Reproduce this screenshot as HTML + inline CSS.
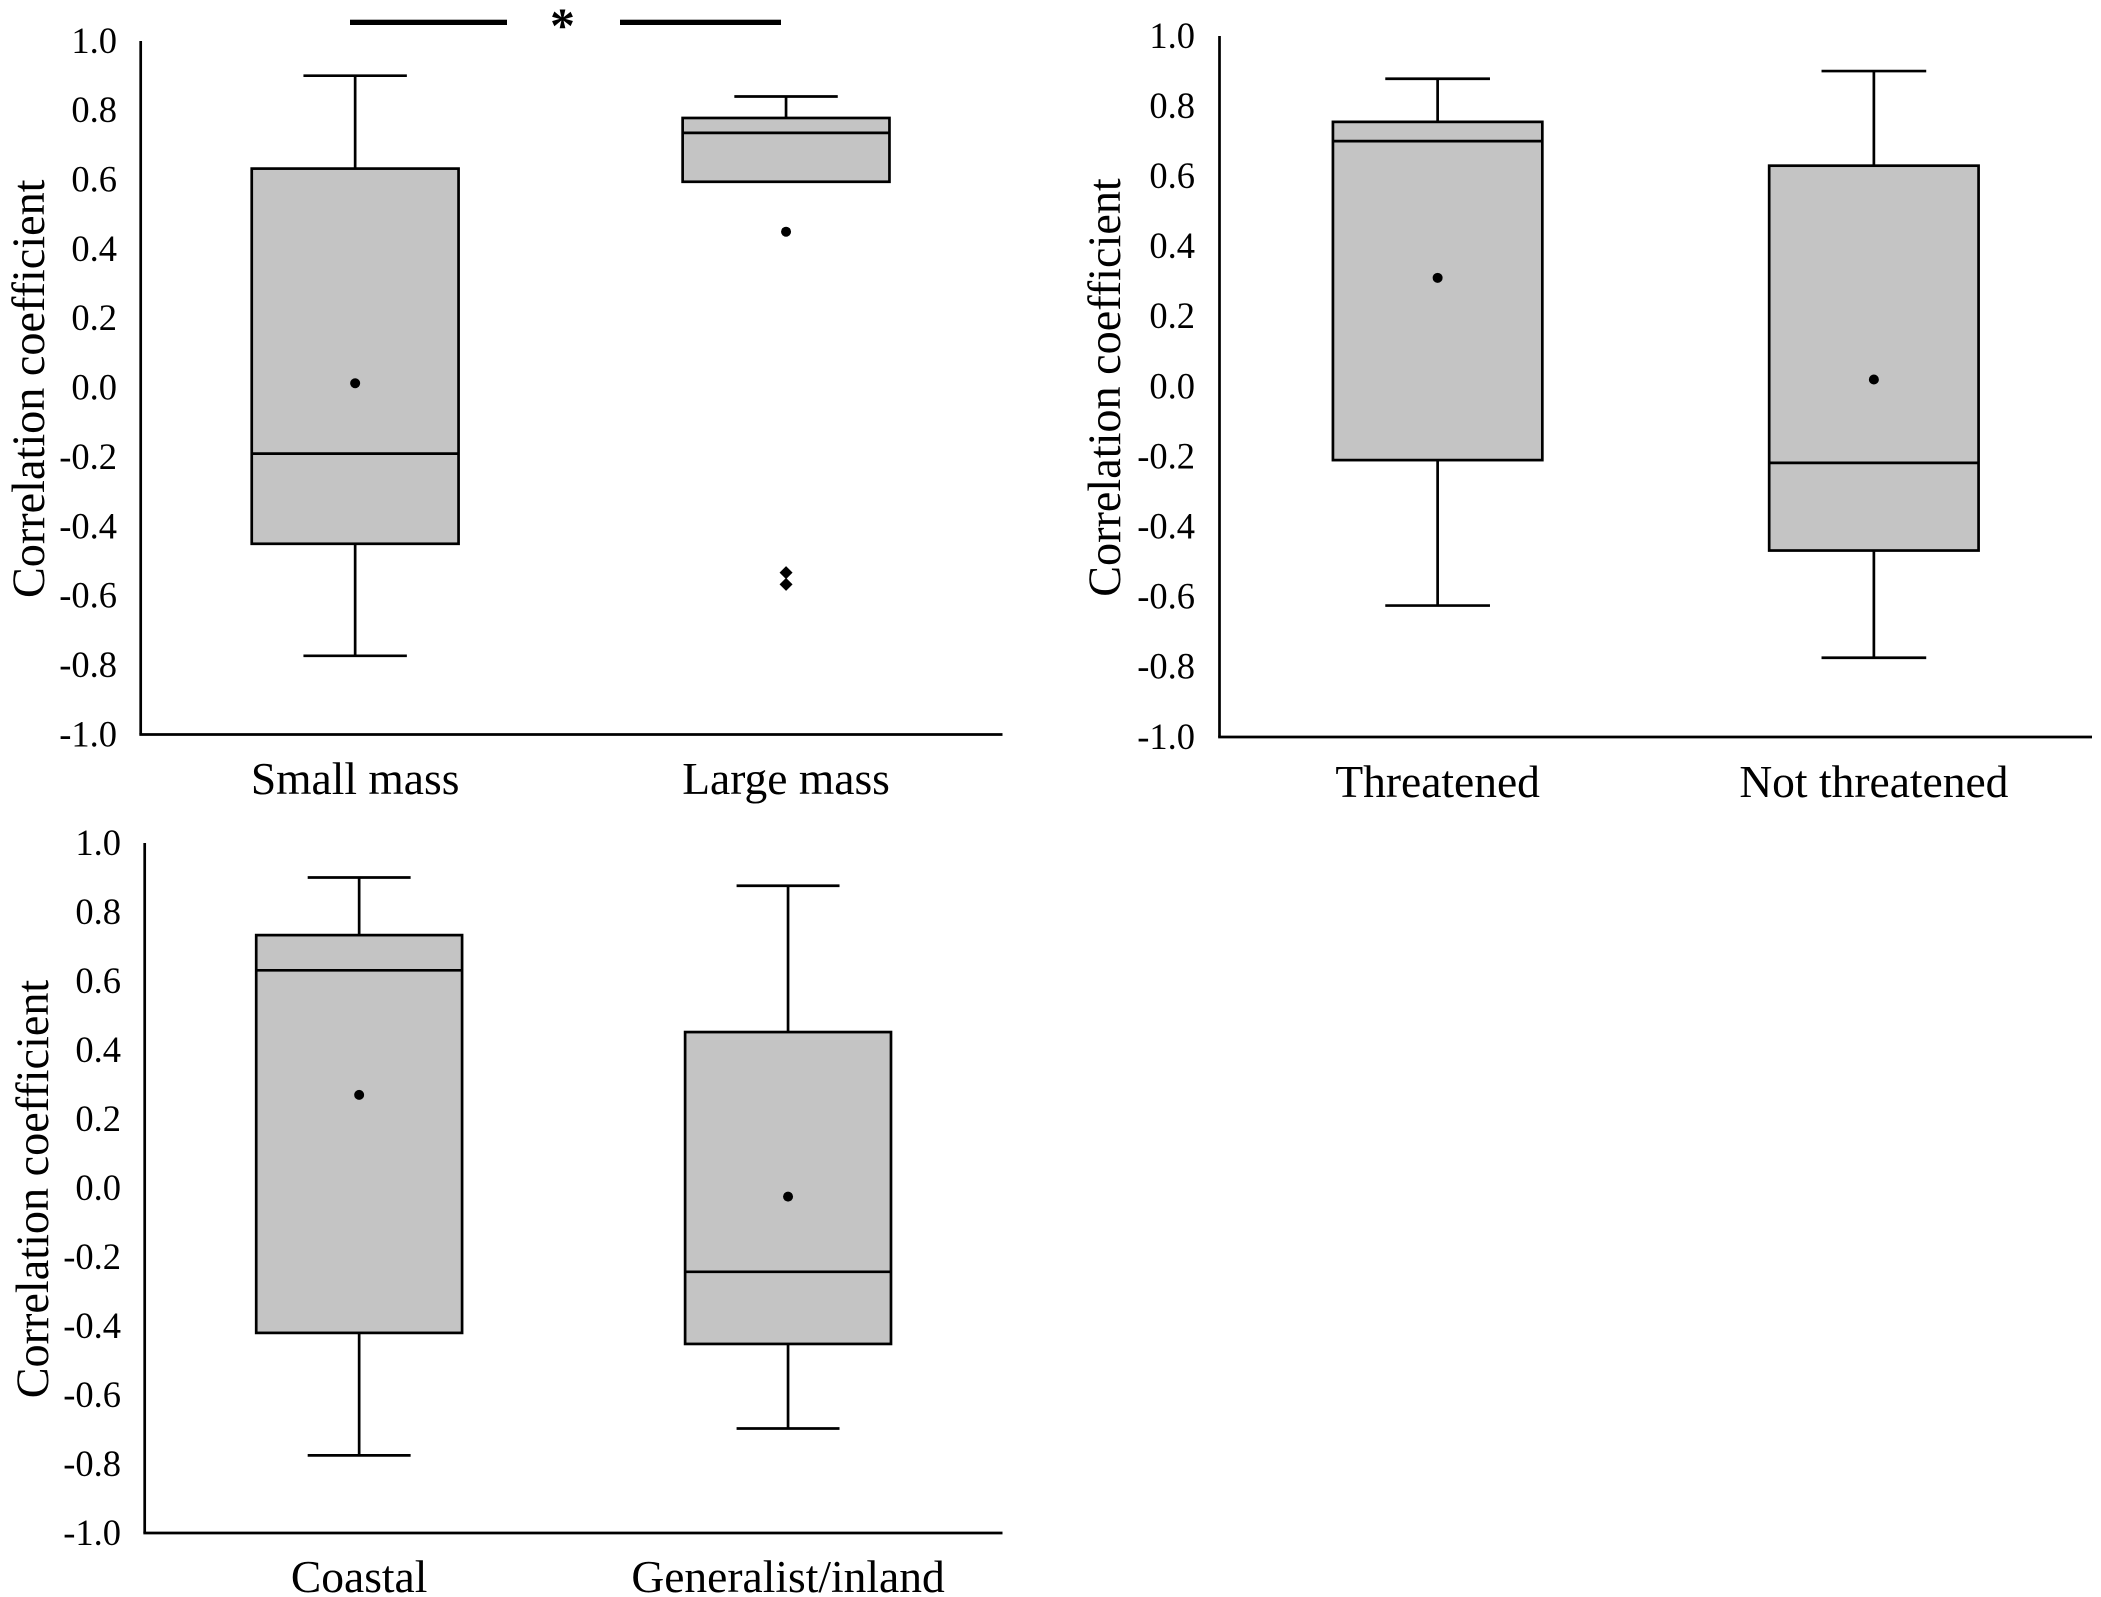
<!DOCTYPE html>
<html lang="en">
<head>
<meta charset="utf-8">
<title>Correlation coefficient box plots</title>
<style>
html,body{margin:0;padding:0;background:#fff;}
#stage{display:block;width:2101px;height:1597px;}
text{font-family:"Liberation Serif",serif;fill:#000;}
</style>
</head>
<body>
<svg id="stage" xmlns="http://www.w3.org/2000/svg" width="2101" height="1597" viewBox="0 0 2101 1597"></svg>
<script>
const tickLabels = ["1.0","0.8","0.6","0.4","0.2","0.0","-0.2","-0.4","-0.6","-0.8","-1.0"];
const tickValues = [1,0.8,0.6,0.4,0.2,0,-0.2,-0.4,-0.6,-0.8,-1];
const yAxisTitle = "Correlation coefficient";

const massCategories = ["Small mass","Large mass"];
const massWhiskerLow = [-0.773,0.78];
const massQ1 = [-0.45,0.594];
const massMedian = [-0.19,0.735];
const massQ3 = [0.632,0.778];
const massWhiskerHigh = [0.90,0.84];
const massMean = [0.013,null];
const massOutlierDots = [[],[0.45]];
const massOutlierDiamonds = [[],[-0.533,-0.567]];

const threatCategories = ["Threatened","Not threatened"];
const threatWhiskerLow = [-0.625,-0.774];
const threatQ1 = [-0.21,-0.468];
const threatMedian = [0.70,-0.218];
const threatQ3 = [0.755,0.63];
const threatWhiskerHigh = [0.878,0.90];
const threatMean = [0.31,0.02];

const habitatCategories = ["Coastal","Generalist/inland"];
const habitatWhiskerLow = [-0.775,-0.697];
const habitatQ1 = [-0.42,-0.452];
const habitatMedian = [0.631,-0.243];
const habitatQ3 = [0.733,0.452];
const habitatWhiskerHigh = [0.90,0.876];
const habitatMean = [0.27,-0.025];

const svg = document.getElementById('stage');
const NS = 'http://www.w3.org/2000/svg';
const STROKE = 2.7;

function make(parent, tag, attrs, text) {
  const node = document.createElementNS(NS, tag);
  for (const key in attrs) node.setAttribute(key, attrs[key]);
  if (text !== undefined) node.textContent = text;
  parent.appendChild(node);
  return node;
}

function slug(s) {
  return s.toLowerCase().replace(/[^a-z0-9]+/g, '-');
}

function drawPanel(cfg) {
  const yScale = v => cfg.bottom - (v + 1) / 2 * (cfg.bottom - cfg.top);
  const xScale = i => cfg.left + (i + 0.5) / cfg.categories.length * (cfg.right - cfg.left) + cfg.xShift;
  const slot = (cfg.right - cfg.left) / cfg.categories.length;
  const boxW = slot * 0.48;
  const capW = boxW / 2;

  const panel = make(svg, 'g', {});
  
  

  const title = make(panel, 'text', {
    transform: `translate(${cfg.titleX},${(cfg.top + cfg.bottom) / 2 + 1}) rotate(-90)`,
    'text-anchor': 'middle', 'font-size': 46.2
  }, yAxisTitle);
  
  

  tickLabels.forEach((label, i) => {
    const t = make(panel, 'text', {
      x: cfg.tickX, y: yScale(tickValues[i]) + 11.8,
      'text-anchor': 'end', 'font-size': 36.5
    }, label);
    
    
  });

  const yAxis = make(panel, 'line', {
    x1: cfg.left, x2: cfg.left, y1: cfg.top, y2: cfg.bottom,
    stroke: '#000', 'stroke-width': STROKE
  });
  
  

  const xAxis = make(panel, 'line', {
    x1: cfg.left - STROKE / 2, x2: cfg.right, y1: cfg.bottom, y2: cfg.bottom,
    stroke: '#000', 'stroke-width': STROKE
  });
  
  

  cfg.categories.forEach((cat, i) => {
    const cx = xScale(i);
    const group = make(panel, 'g', {});
    
    

    const whiskerAttrs = { stroke: '#000', 'stroke-width': STROKE };
    const wHigh = make(group, 'line', Object.assign({ x1: cx, x2: cx, y1: yScale(cfg.q3[i]), y2: yScale(cfg.whiskerHigh[i]) }, whiskerAttrs));
    
    
    const capHigh = make(group, 'line', Object.assign({ x1: cx - capW / 2, x2: cx + capW / 2, y1: yScale(cfg.whiskerHigh[i]), y2: yScale(cfg.whiskerHigh[i]) }, whiskerAttrs));
    
    

    if (cfg.whiskerLow[i] < cfg.q1[i]) {
      const wLow = make(group, 'line', Object.assign({ x1: cx, x2: cx, y1: yScale(cfg.q1[i]), y2: yScale(cfg.whiskerLow[i]) }, whiskerAttrs));
      
      
      const capLow = make(group, 'line', Object.assign({ x1: cx - capW / 2, x2: cx + capW / 2, y1: yScale(cfg.whiskerLow[i]), y2: yScale(cfg.whiskerLow[i]) }, whiskerAttrs));
      
      
    }

    const rect = make(group, 'rect', {
      x: cx - boxW / 2, y: yScale(cfg.q3[i]), width: boxW,
      height: yScale(cfg.q1[i]) - yScale(cfg.q3[i]),
      fill: '#c4c4c4', stroke: '#000', 'stroke-width': STROKE
    });
    
    

    const med = make(group, 'line', Object.assign({ x1: cx - boxW / 2, x2: cx + boxW / 2, y1: yScale(cfg.median[i]), y2: yScale(cfg.median[i]) }, whiskerAttrs));
    
    

    if (cfg.mean[i] !== null) {
      const dot = make(group, 'circle', { cx: cx, cy: yScale(cfg.mean[i]), r: 5, fill: '#000' });
      
      
    }

    (cfg.outlierDots ? cfg.outlierDots[i] : []).forEach(v => {
      const o = make(group, 'circle', { cx: cx, cy: yScale(v), r: 5, fill: '#000' });
      
      
    });

    (cfg.outlierDiamonds ? cfg.outlierDiamonds[i] : []).forEach(v => {
      const y = yScale(v);
      const d = make(group, 'polygon', {
        points: `${cx},${y - 6.5} ${cx + 6.5},${y} ${cx},${y + 6.5} ${cx - 6.5},${y}`,
        fill: '#000'
      });
      
      
    });

    const label = make(panel, 'text', {
      x: cx, y: cfg.catY, 'text-anchor': 'middle', 'font-size': 45.5
    }, cat);
    
    
  });
}

drawPanel({
  name: 'body-mass-panel', left: 140.7, right: 1002.5, xShift: -1, top: 41, bottom: 734.5,
  titleX: 44, tickX: 117, catY: 794,
  categories: massCategories, whiskerLow: massWhiskerLow, q1: massQ1, median: massMedian,
  q3: massQ3, whiskerHigh: massWhiskerHigh, mean: massMean,
  outlierDots: massOutlierDots, outlierDiamonds: massOutlierDiamonds
});

drawPanel({
  name: 'threat-status-panel', left: 1219.5, right: 2092, xShift: 0, top: 36, bottom: 737,
  titleX: 1120, tickX: 1195, catY: 797,
  categories: threatCategories, whiskerLow: threatWhiskerLow, q1: threatQ1, median: threatMedian,
  q3: threatQ3, whiskerHigh: threatWhiskerHigh, mean: threatMean
});

drawPanel({
  name: 'habitat-panel', left: 144.7, right: 1002.5, xShift: 0, top: 843, bottom: 1533,
  titleX: 48, tickX: 121, catY: 1592,
  categories: habitatCategories, whiskerLow: habitatWhiskerLow, q1: habitatQ1, median: habitatMedian,
  q3: habitatQ3, whiskerHigh: habitatWhiskerHigh, mean: habitatMean
});

const sigLeft = make(svg, 'rect', { x: 350, y: 19.7, width: 157, height: 5.3, fill: '#000' });


const sigRight = make(svg, 'rect', { x: 620, y: 19.7, width: 161, height: 5.3, fill: '#000' });


const sigStar = make(svg, 'text', { x: 562.5, y: 42, 'text-anchor': 'middle', 'font-size': 50, 'font-weight': 'bold' }, '*');


</script>
</body>
</html>
